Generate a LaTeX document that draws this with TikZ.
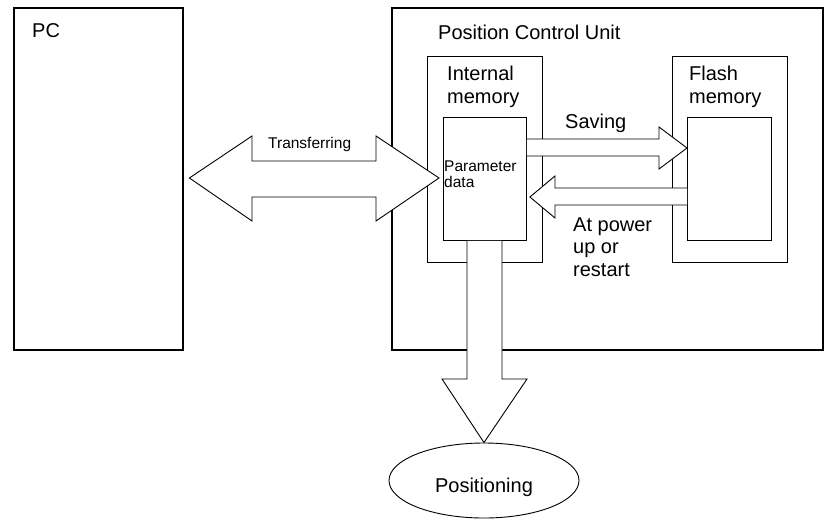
\documentclass[tikz,border=0pt]{standalone}
\usepackage{fontspec}
\setmainfont{Liberation Sans}
\usetikzlibrary{calc,shapes.geometric}
\tikzset{
  pcuframe/.style={draw,line width=2.4pt,inner sep=0pt,anchor=north west},
  pcubox/.style={draw,line width=0.9pt,inner sep=0pt,anchor=north west},
  pcuarrow/.style={draw,line width=0.9pt,fill=white,line join=miter},
  pcutext/.style={inner sep=0pt,anchor=base west,align=left,
                  font=\fontsize{20}{22.5}\selectfont},
  pcusmall/.style={pcutext,font=\fontsize{15.5}{16}\selectfont}
}
\begin{document}
\begin{tikzpicture}[x=1pt,y=-1pt]
  \useasboundingbox (0,0) rectangle (824,520);
  % boxes
  \node[pcuframe,minimum width=169,minimum height=342] (pc) at (13,7) {};
  \node[pcuframe,minimum width=431,minimum height=342] (pcu) at (391,7) {};
  \node[pcubox,minimum width=115,minimum height=206] (intmem) at (427,56) {};
  \node[pcubox,minimum width=115,minimum height=206] (flash) at (672,56) {};
  \node[pcubox,minimum width=83,minimum height=123] (param) at (443,117) {};
  \node[pcubox,minimum width=84,minimum height=123] (flashin) at (687,117) {};
  \node[draw,ellipse,line width=0.9pt,minimum width=190,minimum height=75,
        inner sep=0pt] (posn) at (484,480.5) {};

  % block arrows
  \draw[pcuarrow] ($(pc.east |- 0,178)+(5,0)$) -- (252,136) -- (252,161)
    -- (376,161) -- (376,136) -- ($(param.west |- 0,178)+(-4,0)$)
    -- (376,221) -- (376,197) -- (252,197) -- (252,221) -- cycle;
  \draw[pcuarrow] (param.east |- 0,139) -- (659,139) -- (659,127)
    -- (flashin.west |- 0,148) -- (659,169) -- (659,156)
    -- (param.east |- 0,156);
  \draw[pcuarrow] (flashin.west |- 0,188) -- (555,188) -- (555,176)
    -- ($(param.east |- 0,197)+(3,0)$) -- (555,218) -- (555,205)
    -- (flashin.west |- 0,205);
  \draw[pcuarrow] (param.south -| 467,0) -- (467,379) -- (442,379)
    -- (posn.north) -- (527,379) -- (502,379) -- (param.south -| 502,0);

  % labels (base = last line)
  \node[pcutext] (pclabel) at (32,37) {PC};
  \node[pcutext] (pculabel) at (438,39) {Position Control Unit};
  \node[pcutext] (intlabel) at (447,103) {Internal\\memory};
  \node[pcutext] (flashlabel) at (689,103) {Flash\\memory};
  \node[pcusmall] (paramlabel) at (444,187) {Parameter\\data};
  \node[pcusmall] (translabel) at (268,148) {Transferring};
  \node[pcutext] (savelabel) at (565,128) {Saving};
  \node[pcutext] (restlabel) at (573,276) {At power\\up or\\restart};
  \node[pcutext,anchor=base,yshift=-11.5pt] (poslabel) at (posn.center)
    {Positioning};
\end{tikzpicture}
\end{document}
